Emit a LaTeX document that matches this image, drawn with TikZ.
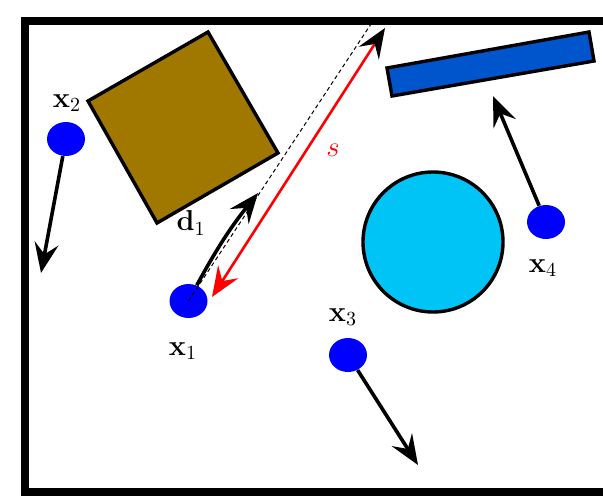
\documentclass[tikz,border=0pt]{standalone}
\usepackage{amsmath,amssymb}
\usetikzlibrary{arrows.meta,shapes.geometric}
\definecolor{boxbrown}{RGB}{160,120,0}
\definecolor{barblue}{RGB}{0,85,204}
\definecolor{discyan}{RGB}{0,196,245}
\begin{document}
\begin{tikzpicture}[x=0.5pt,y=-0.5pt,every node/.style={font=\Large},
 agent/.style={ellipse,fill=blue,minimum width=19pt,minimum height=17pt,inner sep=0pt},
 vel/.style={line width=1.8pt,-{Stealth[length=15pt,width=12pt,inset=5.5pt]}},
 obst/.style={draw=black,line width=1.7pt,line join=miter}]
\clip (0,0) rectangle (603,498);
\draw[line width=4pt] (25,21) rectangle (640,492);
\draw[obst,fill=boxbrown] (88,101)--(208,32)--(278,153)--(157,223)--cycle;
\draw[obst,fill=barblue] (387,68)--(589,32)--(594,61)--(392,96)--cycle;
\node[obst,fill=discyan,circle,minimum size=70pt,inner sep=0pt] (disc) at (433,242) {};
\node[agent] (x1) at (188.5,301) {}; \node[agent] (x2) at (66,139) {}; \node[agent] (x3) at (348,355) {}; \node[agent] (x4) at (546,222) {};
\coordinate (ray) at (371,24); \coordinate (d1tip) at (258,193); \coordinate (sbot) at (212,297); \coordinate (stop) at (385,28);
\coordinate (v2) at (41,273); \coordinate (v3) at (418,465); \coordinate (v4) at (493,96);
\draw[line width=0.5pt,dash pattern=on 2pt off 1.5pt] (x1.center)--(ray);
\draw[vel] (x1) to[bend left=5] (d1tip);
\draw[red,line width=1.3pt,{Stealth[red,length=15pt,width=12pt,inset=5.5pt]}-{Stealth[black,length=15pt,width=12pt,inset=5.5pt]}] (sbot)--(stop);
\draw[vel] (x2)--(v2); \draw[vel] (x3)--(v3); \draw[vel] (x4)--(v4);
\node (lx1) at (183,351) {$\mathbf{x}_1$}; \node (lx2) at (67,103) {$\mathbf{x}_2$}; \node (lx3) at (343,317) {$\mathbf{x}_3$}; \node (lx4) at (543,268) {$\mathbf{x}_4$};
\node (ld1) at (191,223) {$\mathbf{d}_1$}; \node[red] (ls) at (333,150) {$s$};
\end{tikzpicture}
\end{document}
